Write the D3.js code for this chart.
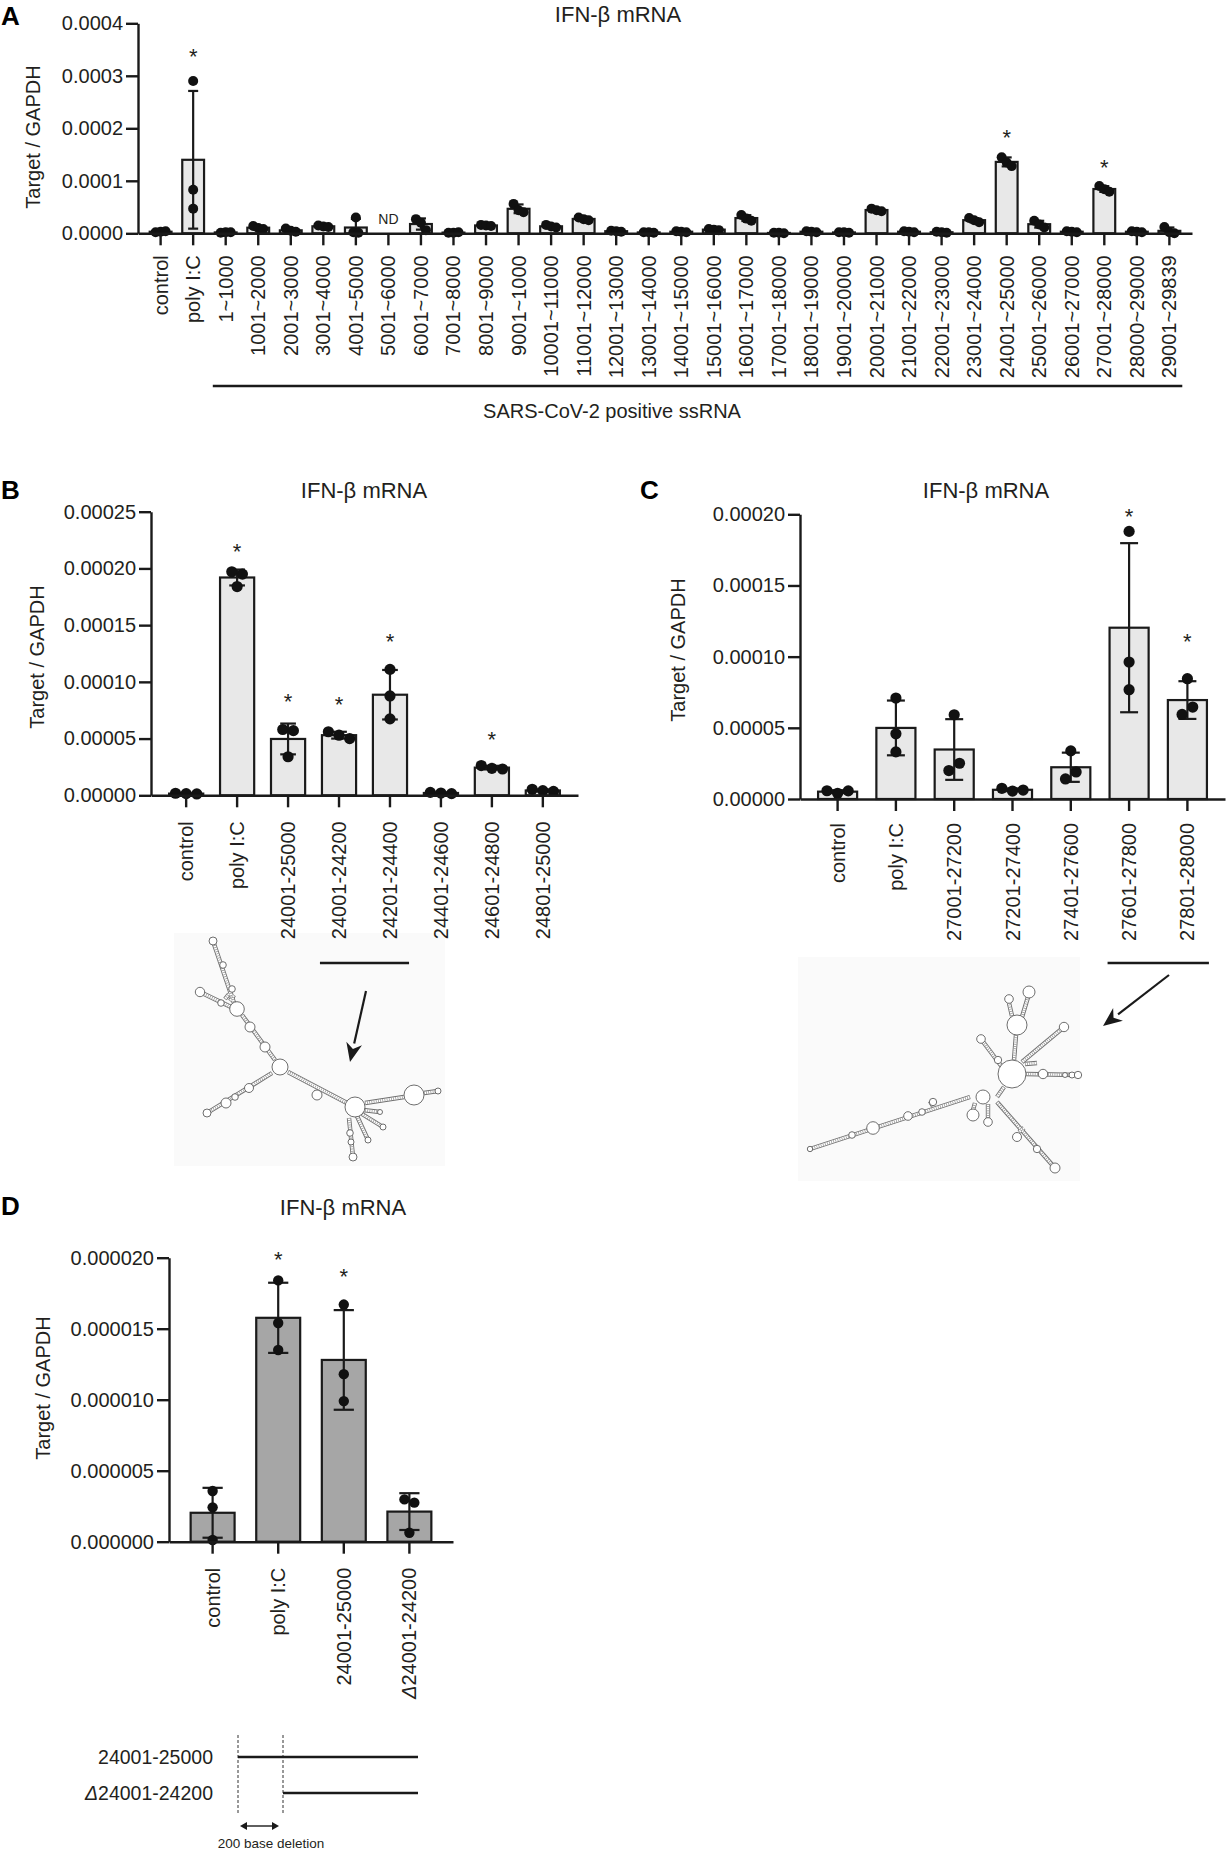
<!DOCTYPE html>
<html>
<head>
<meta charset="utf-8">
<script src="https://cdn.jsdelivr.net/npm/d3@7"></script>
<style>
  body { margin: 0; background: #fff; }
  svg { display: block; font-family: "Liberation Sans", Arial, sans-serif; }
  .axis path, .axis line { stroke: #1a1a1a; stroke-width: 2.4; }
  .axis text { font-size: 20px; fill: #231f20; }
</style>
</head>
<body>
<svg id="fig" width="1231" height="1854"></svg>
<script>
"use strict";

// Panel A: 1000-nt fragments of the genome ////////////////
var catsA = ["control", "poly I:C", "1~1000", "1001~2000", "2001~3000", "3001~4000",
  "4001~5000", "5001~6000", "6001~7000", "7001~8000", "8001~9000", "9001~1000",
  "10001~11000", "11001~12000", "12001~13000", "13001~14000", "14001~15000",
  "15001~16000", "16001~17000", "17001~18000", "18001~19000", "19001~20000",
  "20001~21000", "21001~22000", "22001~23000", "23001~24000", "24001~25000",
  "25001~26000", "26001~27000", "27001~28000", "28000~29000", "29001~29839"];
// three replicates each, null = not detected
var ptsA = [
  [0.02e-4, 0.03e-4, 0.04e-4], [2.90e-4, 0.83e-4, 0.47e-4], [0.01e-4, 0.02e-4, 0.02e-4],
  [0.14e-4, 0.10e-4, 0.08e-4], [0.09e-4, 0.05e-4, 0.03e-4], [0.15e-4, 0.13e-4, 0.12e-4],
  [0.30e-4, 0.02e-4, 0.01e-4], null, [0.27e-4, 0.20e-4, 0.06e-4],
  [0.01e-4, 0.01e-4, 0.02e-4], [0.16e-4, 0.15e-4, 0.14e-4], [0.56e-4, 0.44e-4, 0.40e-4],
  [0.16e-4, 0.13e-4, 0.11e-4], [0.30e-4, 0.27e-4, 0.25e-4], [0.05e-4, 0.04e-4, 0.03e-4],
  [0.02e-4, 0.02e-4, 0.01e-4], [0.04e-4, 0.03e-4, 0.02e-4], [0.08e-4, 0.07e-4, 0.06e-4],
  [0.35e-4, 0.28e-4, 0.24e-4], [0.01e-4, 0.01e-4, 0.00e-4], [0.04e-4, 0.03e-4, 0.02e-4],
  [0.02e-4, 0.02e-4, 0.01e-4], [0.47e-4, 0.44e-4, 0.42e-4], [0.04e-4, 0.03e-4, 0.02e-4],
  [0.03e-4, 0.02e-4, 0.01e-4], [0.29e-4, 0.25e-4, 0.21e-4], [1.45e-4, 1.35e-4, 1.28e-4],
  [0.24e-4, 0.17e-4, 0.11e-4], [0.04e-4, 0.03e-4, 0.02e-4], [0.90e-4, 0.84e-4, 0.79e-4],
  [0.04e-4, 0.03e-4, 0.02e-4], [0.12e-4, 0.02e-4, 0.00e-4]];
var starsA = [["poly I:C", 3.45e-4], ["24001~25000", 1.91e-4], ["27001~28000", 1.34e-4]];
var ndA = [["5001~6000", 0.27e-4]];
var ticksA = [0, 0.0001, 0.0002, 0.0003, 0.0004];

// Panel B: 200-nt pieces of 24001-25000 ///////////////////
var catsB = ["control", "poly I:C", "24001-25000", "24001-24200", "24201-24400",
  "24401-24600", "24601-24800", "24801-25000"];
var ptsB = [
  [1.8e-6, 1.5e-6, 1.2e-6], [197e-6, 195e-6, 184e-6], [58e-6, 57e-6, 34e-6],
  [56e-6, 53e-6, 50e-6], [111e-6, 87.6e-6, 67.4e-6], [2.6e-6, 2.0e-6, 1.5e-6],
  [26.2e-6, 23.8e-6, 23.2e-6], [5.3e-6, 4.1e-6, 3.4e-6]];
var starsB = [["poly I:C", 219e-6], ["24001-25000", 86.7e-6], ["24001-24200", 84e-6],
  ["24201-24400", 139.5e-6], ["24601-24800", 53.2e-6]];
var ticksB = [0, 0.00005, 0.0001, 0.00015, 0.0002, 0.00025];

// Panel C: 200-nt pieces of 27001-28000 ///////////////////
var catsC = ["control", "poly I:C", "27001-27200", "27201-27400", "27401-27600",
  "27601-27800", "27801-28000"];
var ptsC = [
  [5.8e-6, 4.0e-6, 5.7e-6], [70.9e-6, 45.8e-6, 33.1e-6], [59.2e-6, 20.0e-6, 25.1e-6],
  [7.5e-6, 5.6e-6, 6.3e-6], [33.8e-6, 14.1e-6, 19.0e-6], [188e-6, 96.2e-6, 76.8e-6],
  [84.5e-6, 59.4e-6, 64.6e-6]];
var starsC = [["27601-27800", 201.6e-6], ["27801-28000", 113.8e-6]];
var ticksC = [0, 0.00005, 0.0001, 0.00015, 0.0002];

// Panel D: deletion mutant ////////////////////////////////
var catsD = ["control", "poly I:C", "24001-25000", "Δ24001-24200"];
var ptsD = [
  [3.57e-6, 2.42e-6, 0.12e-6], [18.4e-6, 15.4e-6, 13.5e-6],
  [16.7e-6, 11.8e-6, 9.9e-6], [2.98e-6, 2.75e-6, 0.63e-6]];
var starsD = [["poly I:C", 20.2e-6], ["24001-25000", 19.0e-6]];
var ticksD = [0, 0.000005, 0.00001, 0.000015, 0.00002];

// constructs in D, start / end in nt
var constructsD = [["24001-25000", 24001, 25000], ["Δ24001-24200", 24201, 25000]];

// RNA secondary structure sketches (decoration) ///////////
var stemsB = [
  [213, 941, 234, 1003], [200, 992, 231, 1007], [242, 1015, 275, 1060],
  [272, 1073, 207, 1113], [288, 1072, 347, 1103], [316, 1090, 318, 1098],
  [365, 1103, 404, 1097], [424, 1093, 438, 1091], [363, 1110, 380, 1112],
  [362, 1114, 383, 1127], [357, 1116, 368, 1140], [349, 1118, 353, 1157],
  [225, 999, 229, 994], [230, 1001, 234, 995]];
var loopsB = [
  [213, 941, 4], [223, 965, 3.3], [232, 989, 3.3], [237, 1009, 7.3], [200, 992, 4.7],
  [221, 1003, 3.3], [250, 1027, 5], [265, 1047, 5], [280, 1067, 8], [249, 1088, 4.5],
  [235, 1097, 3.3], [226, 1103, 5], [207, 1113, 4], [317, 1095, 5], [355, 1107, 10],
  [414, 1095, 10], [438, 1091, 3], [380, 1112, 2.5], [383, 1127, 3], [368, 1140, 3],
  [350, 1133, 3.3], [351, 1142, 3], [353, 1157, 4]];
var stemsC = [
  [1014, 1060, 1016, 1035], [1012, 1016, 1009, 1003], [1022, 1017, 1028, 997],
  [1022, 1062, 1064, 1027], [1025, 1064, 1037, 1063], [1026, 1074, 1078, 1075],
  [1002, 1067, 981, 1039], [1004, 1087, 997, 1097], [970, 1097, 810, 1149],
  [933, 1106, 930, 1101], [975, 1103, 973, 1110], [988, 1104, 988, 1118],
  [997, 1102, 1055, 1168], [1019, 1132, 1024, 1128]];
var loopsC = [
  [1012, 1074, 14], [1017, 1025, 10], [1009, 999, 4.3], [1029, 992, 6], [1064, 1027, 4.7],
  [1043, 1074, 4.7], [1065, 1075, 2.5], [1072, 1075, 3], [1078, 1075, 3.7],
  [998, 1060, 3.7], [981, 1039, 4.3], [983, 1097, 7], [873, 1128, 6.3], [852, 1135, 3.3],
  [908, 1116, 4.3], [922, 1112, 3.3], [933, 1102, 3.7], [810, 1149, 2.7],
  [973, 1115, 6], [988, 1122, 4.3], [1017, 1137, 4.5], [1037, 1149, 3.7], [1055, 1168, 5]];

var svg = d3.select("#fig");
var ink = "#231f20";

var app = {

  // shared bar + dot + SD plot ////////////////////////////
  barPanel: function(cfg) {
  //////////////////////////////////////////////////////////

    var g = svg.append("g");

    var x = d3.scaleBand()
        .domain(cfg.cats)
        .range(cfg.xRange)
        .paddingInner(0.33)
        .paddingOuter(cfg.po);

    var y = d3.scaleLinear()
        .domain([0, d3.max(cfg.ticks)])
        .range(cfg.yRange);

    var rows = cfg.cats.map(function(c, i) {
      var p = cfg.pts[i];
      return { cat: c, pts: p, mean: p ? d3.mean(p) : null, sd: p ? d3.deviation(p) : null };
    }).filter(function(d) { return d.pts; });

    var bw = x.bandwidth(),
        cap = bw * 0.23;

    // Bars
    g.selectAll("rect.bar")
        .data(rows)
      .enter().append("rect")
        .attr("class", "bar")
        .attr("x", function(d) { return x(d.cat); })
        .attr("y", function(d) { return y(d.mean); })
        .attr("width", bw)
        .attr("height", function(d) { return y(0) - y(d.mean); })
        .attr("fill", cfg.fill)
        .attr("stroke", "#1a1a1a")
        .attr("stroke-width", 2.2);

    // SD error bars
    var eb = g.selectAll("g.err")
        .data(rows)
      .enter().append("g")
        .attr("class", "err")
        .attr("transform", function(d) { return "translate(" + (x(d.cat) + bw / 2) + ",0)"; })
        .attr("stroke", "#1a1a1a")
        .attr("stroke-width", 2.2);

    eb.append("line")
        .attr("y1", function(d) { return y(Math.max(0, d.mean - d.sd)); })
        .attr("y2", function(d) { return y(d.mean + d.sd); });
    eb.append("line")
        .attr("x1", -cap).attr("x2", cap)
        .attr("y1", function(d) { return y(d.mean + d.sd); })
        .attr("y2", function(d) { return y(d.mean + d.sd); });
    eb.append("line")
        .attr("x1", -cap).attr("x2", cap)
        .attr("y1", function(d) { return y(Math.max(0, d.mean - d.sd)); })
        .attr("y2", function(d) { return y(Math.max(0, d.mean - d.sd)); });

    // Replicate dots, spread sideways when they overlap
    var spread = function(vals) {
      var order = vals.map(function(v, i) { return i; })
          .sort(function(a, b) { return vals[a] - vals[b]; });
      var groups = [], cur = [order[0]];
      for (var k = 1; k < order.length; k++) {
        if (Math.abs(y(vals[order[k]]) - y(vals[order[k - 1]])) < 2 * cfg.r) {
          cur.push(order[k]);
        } else {
          groups.push(cur);
          cur = [order[k]];
        }
      }
      groups.push(cur);
      var off = [];
      groups.forEach(function(gr) {
        gr.sort(d3.ascending);
        gr.forEach(function(i, j) { off[i] = (j - (gr.length - 1) / 2) * cfg.gap * cfg.r; });
      });
      return off;
    };

    rows.forEach(function(d) {
      var off = spread(d.pts),
          cx = x(d.cat) + bw / 2;
      g.selectAll(null)
          .data(d.pts)
        .enter().append("circle")
          .attr("cx", function(v, i) { return cx + off[i]; })
          .attr("cy", function(v) { return y(v); })
          .attr("r", cfg.r)
          .attr("fill", "#111");
    });

    // Axes
    var yAxis = g.append("g")
        .attr("class", "axis")
        .attr("transform", "translate(" + cfg.xRange[0] + ",0)")
        .call(d3.axisLeft(y)
          .tickValues(cfg.ticks)
          .tickFormat(d3.format(cfg.fmt))
          .tickSize(12)
          .tickSizeOuter(0)
          .tickPadding(3));

    var xAxis = g.append("g")
        .attr("class", "axis")
        .attr("transform", "translate(0," + y(0) + ")")
        .call(d3.axisBottom(x).tickSize(12).tickSizeOuter(0));

    xAxis.selectAll("text")
        .attr("transform", "rotate(-90)")
        .attr("text-anchor", "end")
        .attr("x", -cfg.labelGap)
        .attr("y", 0)
        .attr("dy", "0.35em")
        .each(function(t) {
          if (t.charAt(0) === "Δ") {
            var el = d3.select(this).text("");
            el.append("tspan").attr("font-style", "italic").text("Δ");
            el.append("tspan").text(t.slice(1));
          }
        });

    yAxis.selectAll("text").attr("fill", ink);
    xAxis.selectAll("text").attr("fill", ink);

    // Asterisks
    g.selectAll("text.star")
        .data(cfg.stars)
      .enter().append("text")
        .attr("class", "star")
        .attr("x", function(d) { return x(d[0]) + bw / 2; })
        .attr("y", function(d) { return y(d[1]) + 12; })
        .attr("text-anchor", "middle")
        .attr("font-size", 22)
        .attr("fill", ink)
        .text("*");

    // Not detected
    g.selectAll("text.nd")
        .data(cfg.nd || [])
      .enter().append("text")
        .attr("x", function(d) { return x(d[0]) + bw / 2; })
        .attr("y", function(d) { return y(d[1]); })
        .attr("dy", "0.35em")
        .attr("text-anchor", "middle")
        .attr("font-size", 14)
        .attr("fill", ink)
        .text("ND");

    // Title, y label, panel letter
    g.append("text")
        .attr("x", cfg.title[0]).attr("y", cfg.title[1])
        .attr("text-anchor", "middle")
        .attr("font-size", 22)
        .attr("fill", ink)
        .text("IFN-β mRNA");

    g.append("text")
        .attr("transform", "translate(" + cfg.yTitle[0] + "," + cfg.yTitle[1] + ") rotate(-90)")
        .attr("text-anchor", "middle")
        .attr("dy", "0.35em")
        .attr("font-size", 20)
        .attr("fill", ink)
        .text("Target / GAPDH");

    g.append("text")
        .attr("x", cfg.letter[0]).attr("y", cfg.letter[1])
        .attr("font-size", 26)
        .attr("font-weight", "bold")
        .attr("fill", "#000")
        .text(cfg.name);

    return x;
  },

  // Bracket under a run of categories /////////////////////
  bracket: function(x, from, to, yPos) {
  //////////////////////////////////////////////////////////
    svg.append("line")
        .attr("x1", x(from) - 2).attr("x2", x(to) + x.bandwidth() + 2)
        .attr("y1", yPos).attr("y2", yPos)
        .attr("stroke", "#1a1a1a")
        .attr("stroke-width", 2.6);
  },

  // RNA structure sketch //////////////////////////////////
  rna: function(stems, loops, box) {
  //////////////////////////////////////////////////////////
    var g = svg.append("g");

    g.append("rect")
        .attr("x", box[0]).attr("y", box[1])
        .attr("width", box[2] - box[0]).attr("height", box[3] - box[1])
        .attr("fill", "#fafafa");

    var line = function(color, w, dash) {
      g.selectAll(null)
          .data(stems)
        .enter().append("line")
          .attr("x1", function(d) { return d[0]; })
          .attr("y1", function(d) { return d[1]; })
          .attr("x2", function(d) { return d[2]; })
          .attr("y2", function(d) { return d[3]; })
          .attr("stroke", color)
          .attr("stroke-width", w)
          .attr("stroke-dasharray", dash);
    };
    line("#6f6f6f", 4.4, null);
    line("#ffffff", 2.6, null);
    line("#8f8f8f", 2.6, "0.7,1.5");

    g.selectAll("circle")
        .data(loops)
      .enter().append("circle")
        .attr("cx", function(d) { return d[0]; })
        .attr("cy", function(d) { return d[1]; })
        .attr("r", function(d) { return d[2]; })
        .attr("fill", "#fff")
        .attr("stroke", "#5e5e5e")
        .attr("stroke-width", 0.9);
  },

  // Arrow pointing at a structure /////////////////////////
  arrow: function(a, b) {
  //////////////////////////////////////////////////////////
    var ang = Math.atan2(b[1] - a[1], b[0] - a[0]),
        len = 19, half = 8,
        bx = b[0] - len * Math.cos(ang), by = b[1] - len * Math.sin(ang);
    svg.append("line")
        .attr("x1", a[0]).attr("y1", a[1])
        .attr("x2", bx).attr("y2", by)
        .attr("stroke", "#1a1a1a")
        .attr("stroke-width", 2.2);
    var head = [
      [b[0], b[1]],
      [bx + half * Math.sin(ang), by - half * Math.cos(ang)],
      [b[0] - 0.7 * len * Math.cos(ang), b[1] - 0.7 * len * Math.sin(ang)],
      [bx - half * Math.sin(ang), by + half * Math.cos(ang)]
    ];
    svg.append("path")
        .attr("d", d3.line()(head) + "Z")
        .attr("fill", "#1a1a1a");
  },

  // Construct map under D /////////////////////////////////
  constructs: function() {
  //////////////////////////////////////////////////////////
    var pos = d3.scaleLinear().domain([24001, 24201, 25000]).range([238, 283, 418]),
        row = d3.scalePoint().domain(constructsD.map(function(d) { return d[0]; })).range([1757, 1793]),
        g = svg.append("g");

    [24001, 24201].forEach(function(nt) {
      g.append("line")
          .attr("x1", pos(nt)).attr("x2", pos(nt))
          .attr("y1", 1735).attr("y2", 1815)
          .attr("stroke", "#333")
          .attr("stroke-width", 1)
          .attr("stroke-dasharray", "3,2");
    });

    constructsD.forEach(function(c) {
      g.append("line")
          .attr("x1", pos(c[1])).attr("x2", pos(c[2]))
          .attr("y1", row(c[0])).attr("y2", row(c[0]))
          .attr("stroke", "#1a1a1a")
          .attr("stroke-width", 2.6);
      var t = g.append("text")
          .attr("x", 213).attr("y", row(c[0]))
          .attr("dy", "0.35em")
          .attr("text-anchor", "end")
          .attr("font-size", 19.5)
          .attr("fill", ink);
      if (c[0].charAt(0) === "Δ") {
        t.append("tspan").attr("font-style", "italic").text("Δ");
        t.append("tspan").text(c[0].slice(1));
      } else {
        t.text(c[0]);
      }
    });

    // double arrow for the deleted 200 nt
    var ay = 1826, x0 = pos(24001) + 2, x1 = pos(24201) - 4;
    g.append("line")
        .attr("x1", x0 + 4).attr("x2", x1 - 4)
        .attr("y1", ay).attr("y2", ay)
        .attr("stroke", "#1a1a1a").attr("stroke-width", 1.4);
    g.append("path")
        .attr("d", d3.line()([[x0, ay], [x0 + 7, ay - 4], [x0 + 7, ay + 4]]) + "Z")
        .attr("fill", "#1a1a1a");
    g.append("path")
        .attr("d", d3.line()([[x1, ay], [x1 - 7, ay - 4], [x1 - 7, ay + 4]]) + "Z")
        .attr("fill", "#1a1a1a");
    g.append("text")
        .attr("x", 271).attr("y", 1848)
        .attr("text-anchor", "middle")
        .attr("font-size", 13.5)
        .attr("fill", ink)
        .text("200 base deletion");
  },

  //////////////////////////////////////////////////////////
  runApp: function() {
  //////////////////////////////////////////////////////////
    var xA = app.barPanel({
      name: "A", cats: catsA, pts: ptsA, stars: starsA, nd: ndA, ticks: ticksA, fmt: ".4f",
      xRange: [138, 1192], po: 0.36, yRange: [233.3, 23.3], r: 5, gap: 1.0, fill: "#e8e8e8",
      labelGap: 22, title: [618, 22], yTitle: [33, 137], letter: [1, 25]
    });
    app.bracket(xA, "1~1000", "29001~29839", 386);
    svg.append("text")
        .attr("x", 612).attr("y", 418)
        .attr("text-anchor", "middle")
        .attr("font-size", 20)
        .attr("fill", ink)
        .text("SARS-CoV-2 positive ssRNA");

    app.rna(stemsB, loopsB, [174, 933, 445, 1166]);
    app.rna(stemsC, loopsC, [798, 957, 1080, 1181]);

    var xB = app.barPanel({
      name: "B", cats: catsB, pts: ptsB, stars: starsB, ticks: ticksB, fmt: ".5f",
      xRange: [151, 578], po: 0.355, yRange: [795.3, 511.7], r: 5.6, gap: 1.9, fill: "#e8e8e8",
      labelGap: 26, title: [364, 498], yTitle: [37, 657], letter: [1, 499]
    });
    app.bracket(xB, "24001-24200", "24201-24400", 963);
    app.arrow([366, 991], [350, 1062]);

    var xC = app.barPanel({
      name: "C", cats: catsC, pts: ptsC, stars: starsC, ticks: ticksC, fmt: ".5f",
      xRange: [800, 1225], po: 0.31, yRange: [799, 514.3], r: 5.6, gap: 1.9, fill: "#e8e8e8",
      labelGap: 24, title: [986, 498], yTitle: [678, 650], letter: [640, 499]
    });
    app.bracket(xC, "27601-27800", "27801-28000", 963);
    app.arrow([1169, 975], [1103, 1026]);

    app.barPanel({
      name: "D", cats: catsD, pts: ptsD, stars: starsD, ticks: ticksD, fmt: ".6f",
      xRange: [169, 453], po: 0.33, yRange: [1541.7, 1257.7], r: 5.2, gap: 1.9, fill: "#a6a6a6",
      labelGap: 26, title: [343, 1215], yTitle: [43, 1388], letter: [1, 1215]
    });
    app.constructs();
  }

};

app.runApp();
</script>
</body>
</html>
